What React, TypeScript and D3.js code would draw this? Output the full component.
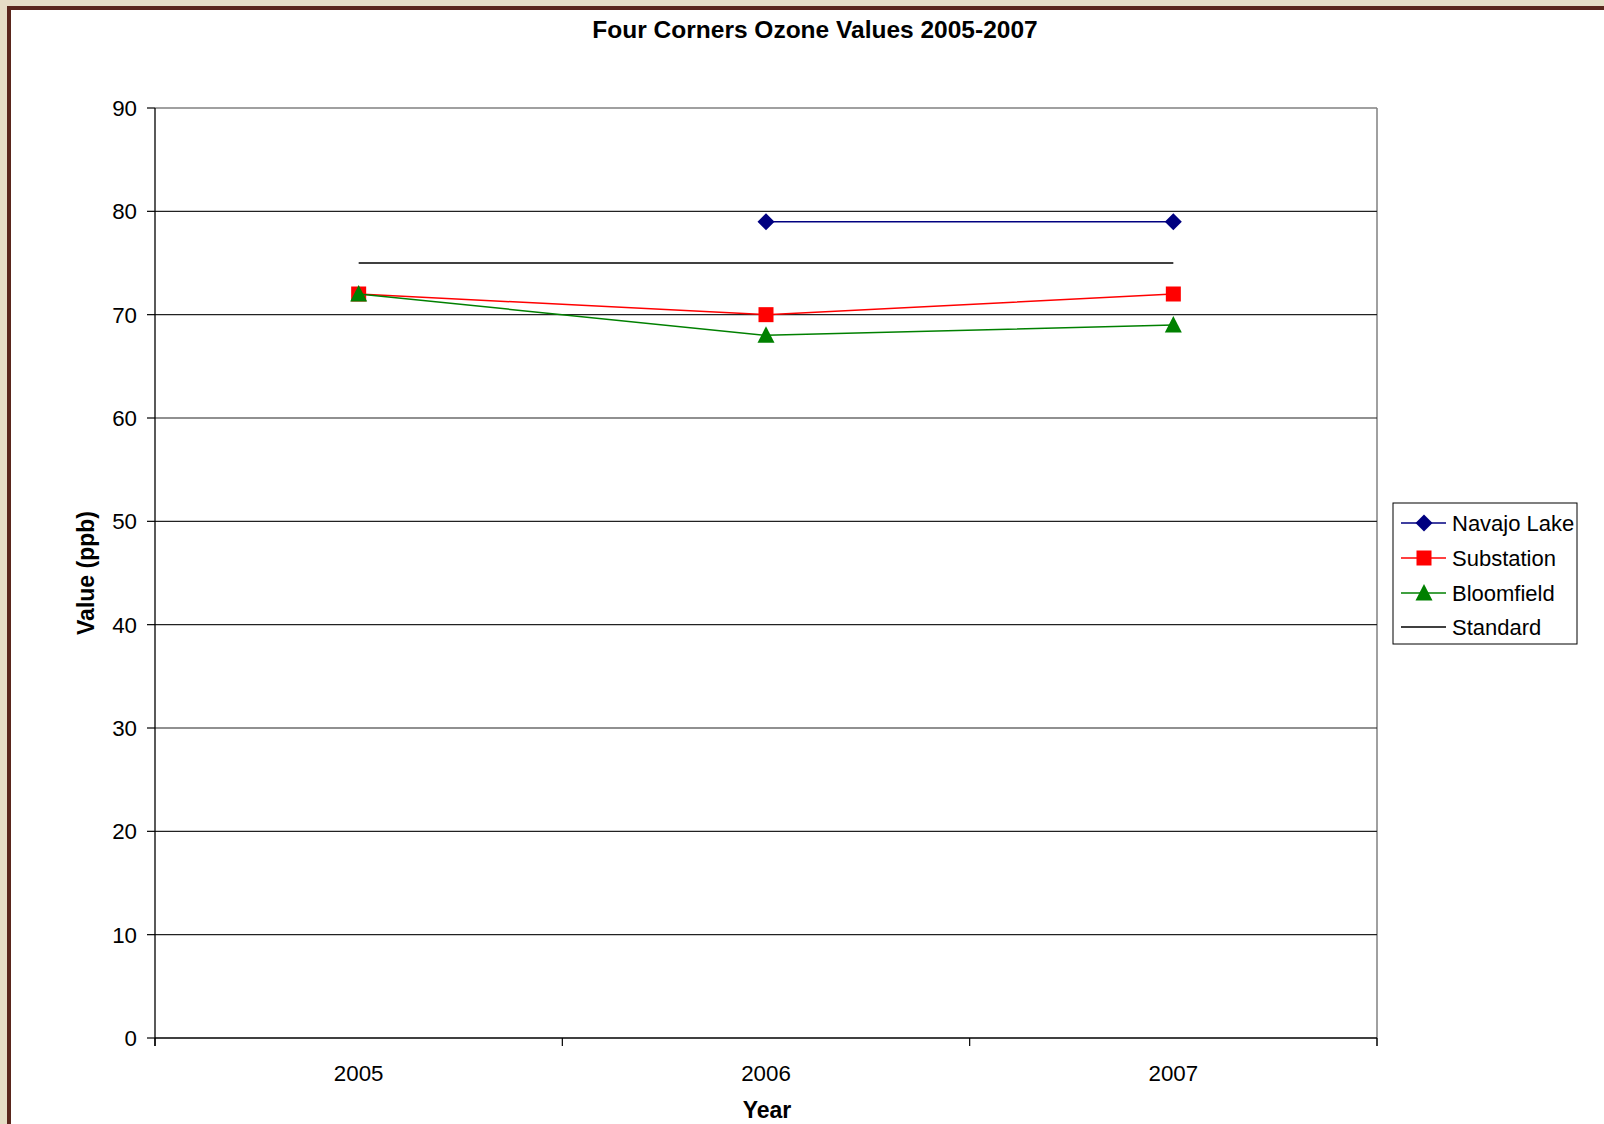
import React from "react";
import * as d3 from "d3";

const years = ["2005", "2006", "2007"];
const navajoLake: (number | null)[] = [null, 79, 79];
const substation: (number | null)[] = [72, 70, 72];
const bloomfield: (number | null)[] = [72, 68, 69];
const standard: (number | null)[] = [75, 75, 75];
const yTicks = [0, 10, 20, 30, 40, 50, 60, 70, 80, 90];

const seriesList = [
  { name: "Navajo Lake", values: navajoLake, color: "#000080", marker: "diamond" },
  { name: "Substation", values: substation, color: "#ff0000", marker: "square" },
  { name: "Bloomfield", values: bloomfield, color: "#008000", marker: "triangle" },
  { name: "Standard", values: standard, color: "#000000", marker: "none" },
];

const W = 1604;
const H = 1124;
const left = 155;
const right = 1377;
const top = 108;
const bottom = 1038;
const FONT = "Arial, 'Liberation Sans', Helvetica, sans-serif";

function Marker({ type, x, y, color }: { type: string; x: number; y: number; color: string }) {
  if (type === "diamond") {
    const s = 8.5;
    return <path d={`M${x},${y - s}L${x + s},${y}L${x},${y + s}L${x - s},${y}Z`} fill={color} />;
  }
  if (type === "square") {
    const s = 7.5;
    return <rect x={x - s} y={y - s} width={2 * s} height={2 * s} fill={color} />;
  }
  if (type === "triangle") {
    return <path d={`M${x},${y - 9}L${x + 8.5},${y + 7.5}L${x - 8.5},${y + 7.5}Z`} fill={color} />;
  }
  return null;
}

export default function App() {
  const x = d3.scaleBand().domain(years).range([left, right]).padding(0);
  const y = d3.scaleLinear().domain([0, 90]).range([bottom, top]);
  const cx = (c: string) => (x(c) as number) + x.bandwidth() / 2;

  const line = d3
    .line<number | null>()
    .defined((d) => d !== null)
    .x((_, i) => cx(years[i]))
    .y((d) => y(d as number));

  const boundaries = [...years.map((c) => x(c) as number), right];

  const legendX = 1393;
  const legendY = 503;
  const legendRows = [523, 558, 593, 627];

  return (
    <svg width={W} height={H} style={{ position: "absolute", left: 0, top: 0 }} fontFamily={FONT}>
      <rect x={0} y={0} width={W} height={H} fill="#e6ddc6" />
      <rect x={7} y={6} width={W + 20} height={H + 20} fill="#5a261c" />
      <rect x={11} y={10} width={W} height={H} fill="#ffffff" />

      <text x={815} y={37.5} textAnchor="middle" fontWeight="bold" fontSize={24.5} fill="#000">
        Four Corners Ozone Values 2005-2007
      </text>

      {/* plot frame top/right */}
      <line x1={left} x2={right} y1={top} y2={top} stroke="#808080" strokeWidth={1.5} />
      <line x1={right} x2={right} y1={top} y2={bottom + 8} stroke="#808080" strokeWidth={1.5} />

      {/* gridlines */}
      {yTicks.slice(1, -1).map((t) => (
        <line key={t} x1={left} x2={right} y1={y(t)} y2={y(t)} stroke="#222" strokeWidth={1.2} />
      ))}

      {/* y axis */}
      <line x1={left} x2={left} y1={top} y2={bottom + 8} stroke="#000" strokeWidth={1.3} />
      {yTicks.map((t) => (
        <g key={t}>
          <line x1={left - 8} x2={left} y1={y(t)} y2={y(t)} stroke="#000" strokeWidth={1.2} />
          <text x={137} y={y(t) + 8} textAnchor="end" fontSize={22.3} fill="#000">
            {t}
          </text>
        </g>
      ))}

      {/* x axis */}
      <line x1={left} x2={right} y1={bottom} y2={bottom} stroke="#000" strokeWidth={1.5} />
      {boundaries.map((b, i) => (
        <line key={i} x1={b} x2={b} y1={bottom} y2={bottom + 8} stroke="#000" strokeWidth={1.2} />
      ))}
      {years.map((c) => (
        <text key={c} x={cx(c)} y={1080.5} textAnchor="middle" fontSize={22.3} fill="#000">
          {c}
        </text>
      ))}

      <text x={767} y={1117.5} textAnchor="middle" fontWeight="bold" fontSize={23} fill="#000">
        Year
      </text>
      <text
        transform={`translate(94,573) rotate(-90)`}
        textAnchor="middle"
        fontWeight="bold"
        fontSize={23}
        fill="#000"
      >
        Value (ppb)
      </text>

      {/* series */}
      {seriesList.map((s) => (
        <g key={s.name}>
          <path d={line(s.values) || ""} fill="none" stroke={s.color} strokeWidth={1.5} />
          {s.values.map((v, i) =>
            v === null ? null : (
              <Marker key={i} type={s.marker} x={cx(years[i])} y={y(v)} color={s.color} />
            )
          )}
        </g>
      ))}

      {/* legend */}
      <rect x={legendX} y={legendY} width={184} height={141} fill="#fff" stroke="#000" strokeWidth={1} />
      {seriesList.map((s, i) => (
        <g key={s.name}>
          <line x1={1401} x2={1446} y1={legendRows[i]} y2={legendRows[i]} stroke={s.color} strokeWidth={1.5} />
          <Marker type={s.marker} x={1424} y={legendRows[i]} color={s.color} />
          <text x={1452} y={legendRows[i] + 8} fontSize={22} fill="#000">
            {s.name}
          </text>
        </g>
      ))}
    </svg>
  );
}
